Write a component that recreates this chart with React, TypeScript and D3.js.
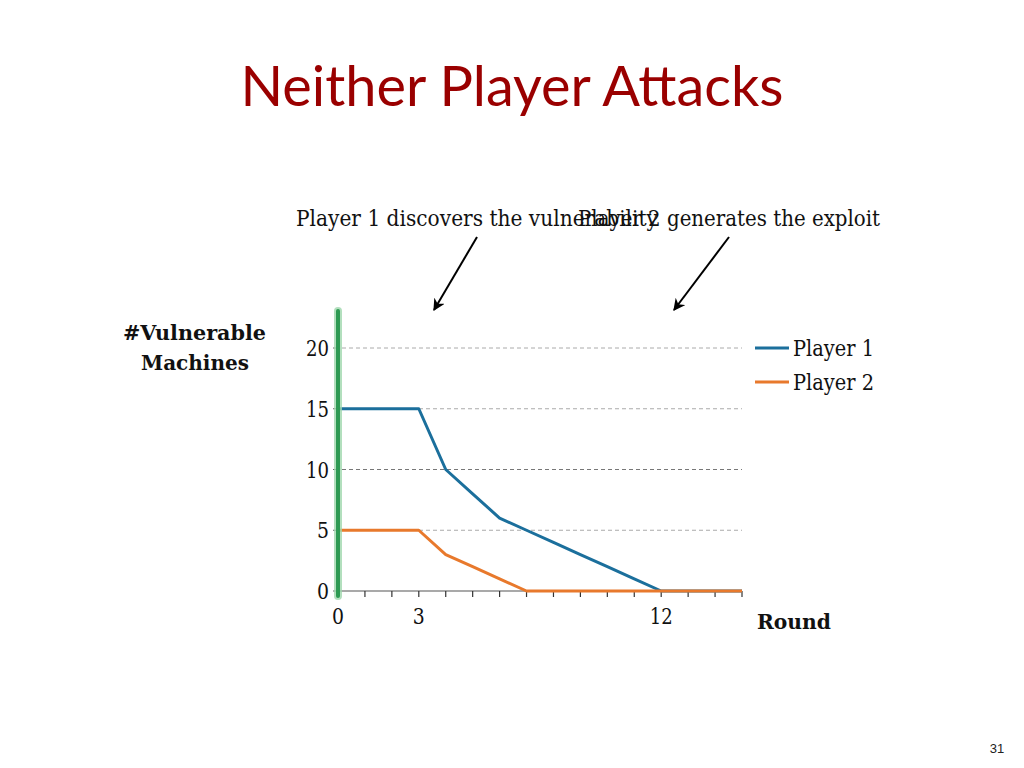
import React from "react";
import * as d3 from "d3";

const rounds = [0, 1, 2, 3, 4, 5, 6, 7, 8, 9, 10, 11, 12, 13, 14, 15];
const player1 = [15, 15, 15, 15, 10, 8, 6, 5, 4, 3, 2, 1, 0, 0, 0, 0];
const player2 = [5, 5, 5, 5, 3, 2, 1, 0, 0, 0, 0, 0, 0, 0, 0, 0];
const yTicks = [0, 5, 10, 15, 20];
const xLabels = [0, 3, 12];
const seriesNames = ["Player 1", "Player 2"];
const colors = ["#1b6f9c", "#e8792c"];
const annotations = [
  { text: "Player 1 discovers the vulnerability", at: 3 },
  { text: "Player 2 generates the exploit", at: 12 },
];

const SERIF = "'DejaVu Serif', serif";

function T(props: any) {
  const { len, children, ...rest } = props;
  return (
    <text
      fontFamily={SERIF}
      fill="#111"
      textLength={len}
      lengthAdjust="spacingAndGlyphs"
      {...rest}
    >
      {children}
    </text>
  );
}

export default function App() {
  const x = d3.scaleLinear().domain([0, 15]).range([338, 742]);
  const y = d3.scaleLinear().domain([0, 20]).range([591, 348]);
  const line = d3
    .line<number>()
    .x((_, i) => x(rounds[i]))
    .y((d) => y(d));
  const series = [player1, player2];

  const annotLayout = [
    { tx: 296, len: 362, ax1: 477, ay1: 237, ax2: 434, ay2: 310 },
    { tx: 578, len: 302, ax1: 729, ay1: 237, ax2: 674, ay2: 310 },
  ];
  const digitW = (t: number) => (String(t).length === 1 ? 12 : 23);

  return (
    <svg
      width={1024}
      height={768}
      style={{ position: "absolute", left: 0, top: 0, background: "#fff" }}
    >
      <defs>
        <marker
          id="arrow"
          viewBox="0 0 10 10"
          refX="9"
          refY="5"
          markerWidth="6"
          markerHeight="6"
          orient="auto-start-reverse"
        >
          <path d="M0,0 L10,5 L0,10 L3,5 Z" fill="#000" />
        </marker>
      </defs>
      <text
        x={512}
        y={106}
        textAnchor="middle"
        fontFamily="Lato, 'Open Sans', sans-serif"
        fontSize={56}
        fill="#9a0000"
        textLength={543}
        lengthAdjust="spacingAndGlyphs"
      >
        Neither Player Attacks
      </text>

      {annotations.map((a, i) => (
        <g key={i}>
          <T x={annotLayout[i].tx} y={226} fontSize={22} len={annotLayout[i].len}>
            {a.text}
          </T>
          <line
            x1={annotLayout[i].ax1}
            y1={annotLayout[i].ay1}
            x2={annotLayout[i].ax2}
            y2={annotLayout[i].ay2}
            stroke="#000"
            strokeWidth={2}
            markerEnd="url(#arrow)"
          />
        </g>
      ))}

      {/* gridlines */}
      {yTicks
        .filter((t) => t > 0)
        .map((t) => (
          <line
            key={t}
            x1={x(0) + 4}
            x2={x(15)}
            y1={y(t)}
            y2={y(t)}
            stroke={t === 10 ? "#777" : "#aaa"}
            strokeWidth={1}
            strokeDasharray="4,3"
          />
        ))}
      {/* y tick labels and ticks */}
      {yTicks.map((t) => (
        <g key={t}>
          <line x1={x(0) - 5} x2={x(0)} y1={y(t)} y2={y(t)} stroke="#666" />
          <T x={329 - digitW(t)} y={y(t) + 8} fontSize={23} len={digitW(t)}>
            {t}
          </T>
        </g>
      ))}
      {/* x axis */}
      <line x1={x(0)} x2={x(15)} y1={y(0)} y2={y(0)} stroke="#555" strokeWidth={1.2} />
      {rounds.map((r) => (
        <line key={r} x1={x(r)} x2={x(r)} y1={y(0)} y2={y(0) + 6} stroke="#333" strokeWidth={1.2} />
      ))}
      {xLabels.map((r) => (
        <T key={r} x={x(r) - digitW(r) / 2} y={624} fontSize={23} len={digitW(r)}>
          {r}
        </T>
      ))}

      {/* series */}
      {series.map((s, i) => (
        <path
          key={i}
          d={line(s) || ""}
          fill="none"
          stroke={colors[i]}
          strokeWidth={3}
          strokeLinejoin="round"
        />
      ))}

      {/* green highlight line */}
      <line x1={338} x2={338} y1={311} y2={596} stroke="#9fd8ad" strokeWidth={8} strokeLinecap="round" opacity={0.8} />
      <line x1={338} x2={338} y1={311} y2={596} stroke="#2d9a52" strokeWidth={4} strokeLinecap="round" />

      {/* legend */}
      {seriesNames.map((n, i) => (
        <g key={n}>
          <line x1={755} x2={789} y1={348 + i * 34} y2={348 + i * 34} stroke={colors[i]} strokeWidth={3} />
          <T x={793} y={356 + i * 34} fontSize={22} len={81}>
            {n}
          </T>
        </g>
      ))}

      {/* axis titles */}
      <T x={123} y={340} fontSize={21} fontWeight="bold" len={143}>
        #Vulnerable
      </T>
      <T x={141} y={370} fontSize={21} fontWeight="bold" len={108}>
        Machines
      </T>
      <T x={757} y={629} fontSize={21} fontWeight="bold" len={74}>
        Round
      </T>

      <text x={997} y={753} textAnchor="middle" fontFamily="'Liberation Sans', Arial, sans-serif" fontSize={13} fill="#222">
        31
      </text>
    </svg>
  );
}
